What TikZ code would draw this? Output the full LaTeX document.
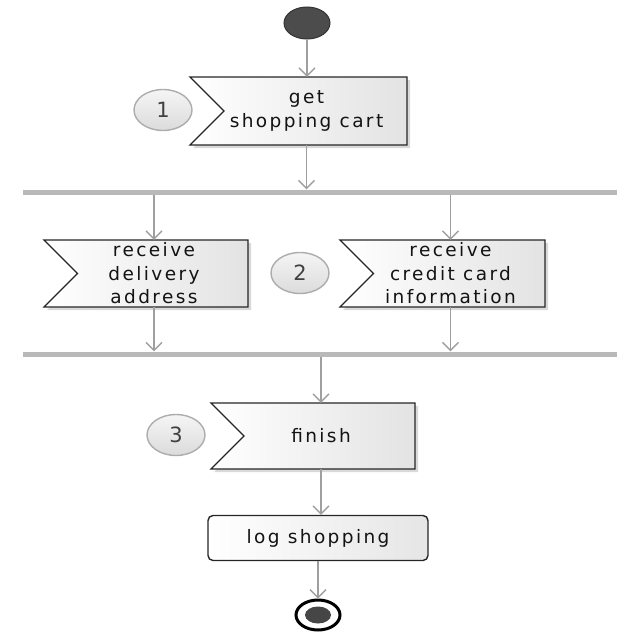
\documentclass[tikz,border=0pt]{standalone}
\usepackage{fontspec}
\setmainfont{DejaVu Sans}[LetterSpace=13]
\usetikzlibrary{arrows.meta,shapes.geometric}

\tikzset{
	flow/.style={draw=gray!75, line width=1.3pt, -{Straight Barb[length=8pt,width=16pt]}},
	recv/.style={draw=gray!30!black, line width=1.4pt, left color=white, right color=gray!22},
	txt/.style={inner sep=0pt, align=center, text=gray!15!black, font=\fontsize{18.5}{23.5}\selectfont},
	num/.style={ellipse, draw=gray!65, line width=1.4pt, minimum width=58pt, minimum height=41pt,
		top color=gray!8, bottom color=gray!28, text=gray!50!black, font=\fontsize{21}{21}\selectfont},
	bar/.style={rectangle, fill=gray!55, minimum height=5pt, inner sep=0pt},
	act/.style={rectangle, rounded corners=5pt, draw=gray!30!black, line width=1.4pt, left color=white,
		right color=gray!20, minimum width=220pt, minimum height=45pt, text=gray!15!black,
		font=\fontsize{18.5}{23.5}\selectfont}
}

% receive-signal box: name, left, right, top, bottom, text
\newcommand{\recvbox}[6]{
	\pgfmathsetmacro{\RBxa}{#2}
	\pgfmathsetmacro{\RBxb}{#3}
	\pgfmathsetmacro{\RBya}{#4}
	\pgfmathsetmacro{\RByb}{#5}
	\pgfmathsetmacro{\RBym}{0.5 * \RBya + 0.5 * \RByb}
	\pgfmathsetmacro{\RBxn}{\RBxa + 0.5 * (\RByb - \RBya)}
	\pgfmathsetmacro{\RBxc}{0.5 * \RBxa + 0.5 * \RBxb + 8}
	\pgfmathsetmacro{\RBh}{\RByb - \RBya}
	\fill[gray!30] (\RBxa+3, \RBya+3) -- (\RBxb+3, \RBya+3) -- (\RBxb+3, \RByb+3) -- (\RBxa+3, \RByb+3) -- (\RBxn+3, \RBym+3) -- cycle;
	\draw[recv] (\RBxa, \RBya) -- (\RBxb, \RBya) -- (\RBxb, \RByb) -- (\RBxa, \RByb) -- (\RBxn, \RBym) -- cycle;
	\node[txt, minimum height=\RBh pt] (#1) at (\RBxc, \RBym) {#6};
}

\begin{document}
\begin{tikzpicture}[x=1pt, y=-1pt]
\useasboundingbox (0,0) rectangle (640,640);

\node[ellipse, draw=gray!40!black, fill=gray!60!black, line width=1pt, minimum width=46pt, minimum height=32pt] (start) at (307,23) {};

\recvbox{cart}{190}{407}{77}{145}{get\\shopping cart}
\node[num] (n1) at (163,110) {1};

\node[bar, minimum width=594pt] (fork) at (320,192) {};

\recvbox{dlv}{44}{248}{240}{307}{receive\\delivery\\address}
\recvbox{card}{340}{545}{240}{307}{receive\\credit card\\information}
\node[num] (n2) at (300,273) {2};

\node[bar, minimum width=594pt] (join) at (320,354) {};

\recvbox{fin}{211}{415}{403}{469}{finish}
\node[num] (n3) at (176,435) {3};

\node[act] (log) at (318,538) {log shopping};

\node[ellipse, draw=black, fill=white, line width=3pt, minimum width=44pt, minimum height=30pt,
	path picture={\fill[gray!55!black] (path picture bounding box.center) ellipse (13 and 8.5);}] (stop) at (318,615) {};

\draw[flow] (start) -- (start |- cart.north);
\draw[flow] (cart) -- (cart |- fork.north);
\draw[flow] (fork.south -| dlv) -- (dlv.north);
\draw[flow] (fork.south -| card) -- (card.north);
\draw[flow] (dlv) -- (dlv |- join.north);
\draw[flow] (card) -- (card |- join.north);
\draw[flow] (join.south -| fin) -- (fin.north);
\draw[flow] (fin) -- (fin |- log.north);
\draw[flow] (log) -- (log |- stop.north);
\end{tikzpicture}
\end{document}
